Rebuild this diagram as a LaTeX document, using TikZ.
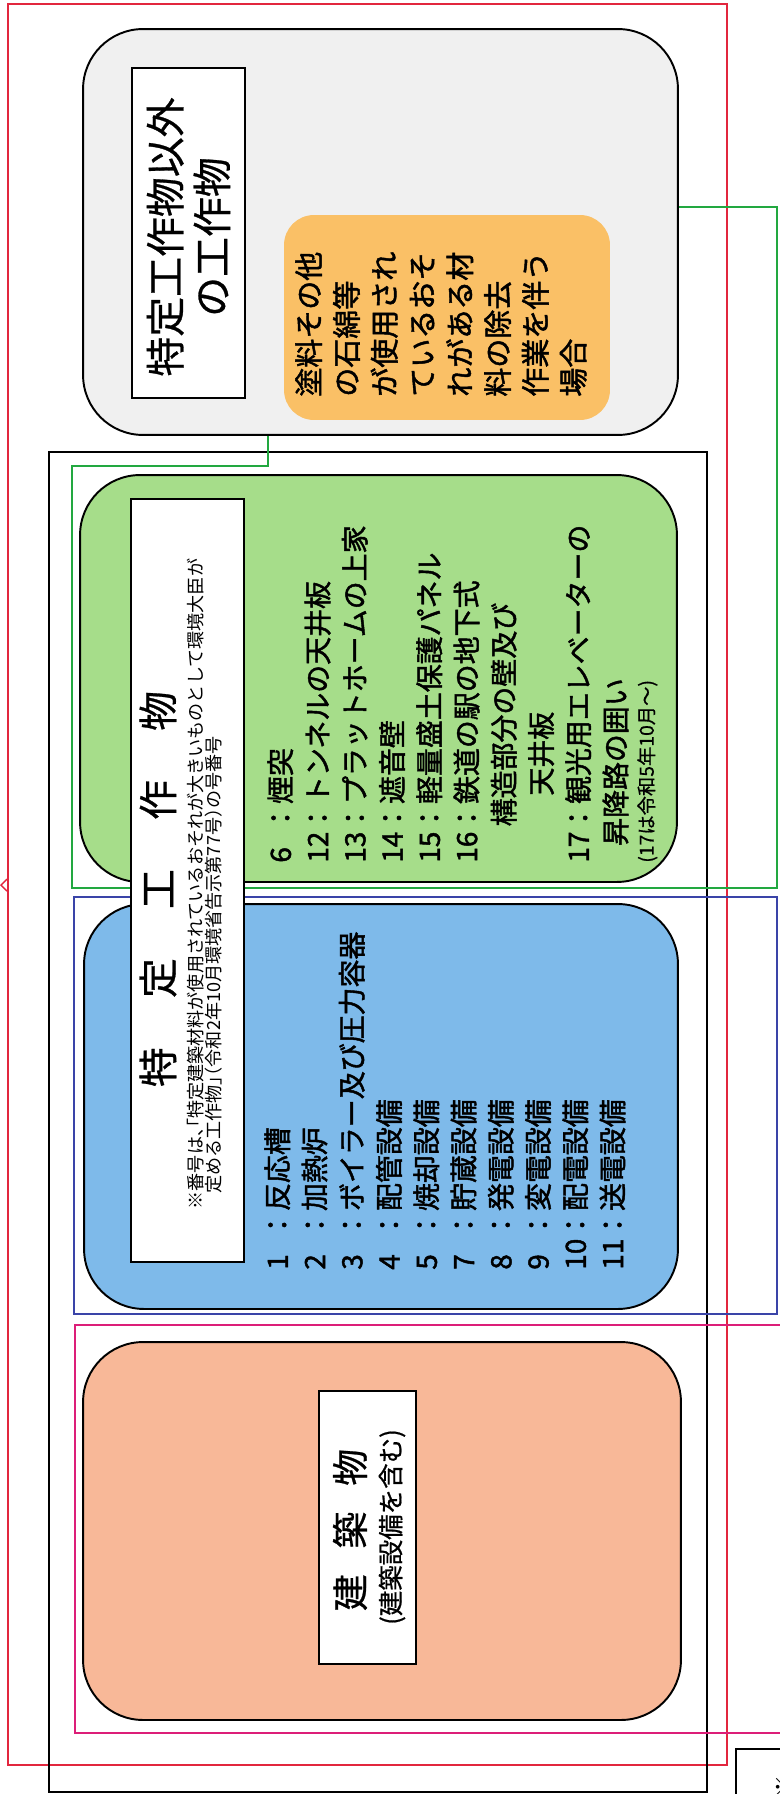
\documentclass[tikz,border=0pt]{standalone}
\usepackage{fontspec}
\setmainfont{Noto Sans CJK JP}
\newfontfamily\jpbold{Noto Sans CJK JP}[FakeBold=1.6]
\newfontfamily\jpmed{Noto Sans CJK JP}[FakeBold=0.7]
\newfontfamily\jpnote{Noto Sans CJK JP}[RawFeature=+halt]
\definecolor{framered}{RGB}{226,38,62}
\definecolor{framegreen}{RGB}{34,168,64}
\definecolor{frameblue}{RGB}{58,68,168}
\definecolor{framepink}{RGB}{220,30,120}
\definecolor{boxgray}{RGB}{240,240,240}
\definecolor{boxorange}{RGB}{250,192,102}
\definecolor{boxgreen}{RGB}{166,221,138}
\definecolor{boxblue}{RGB}{126,186,234}
\definecolor{boxsalmon}{RGB}{248,184,152}
\tikzset{
  roundbox/.style={draw=black, line width=1.1pt, rounded corners=1.2cm, inner sep=0pt},
  titlebox/.style={draw=black, fill=white, line width=0.9pt, rotate=90, inner sep=0pt},
  vtext/.style={rotate=90, inner sep=0pt, align=left},
}
\newcommand\itemno[1]{\makebox[1.1em][l]{#1}：}
\begin{document}
\begin{tikzpicture}[x=0.02cm,y=-0.02cm]
        \useasboundingbox (0,0) rectangle (779,1794);
        %% NOTE: outer frames
        \draw[framered, line width=0.9pt] (8,4) rectangle (727,1765);
        \draw[framered, line width=0.8pt] (7,879) -- (1,885) -- (7,891);
        \draw[black, line width=1.1pt] (49,452) rectangle (707,1792);
        \draw[framegreen, line width=1.4pt] (268,207) -- (777,207) -- (777,888)
            -- (72,888) -- (72,466) -- (268,466) -- cycle;
        \draw[frameblue, line width=0.9pt] (74,897) rectangle (777,1314);
        \draw[framepink, line width=1.1pt] (75,1325) rectangle (781,1733);
        \draw[black, line width=1pt] (736,1800) |- (790,1749);
        \node[rotate=90, anchor=north, font=\fontsize{14}{14}\selectfont] (kome) at (770,1787) {※};
        %% NOTE: other structures
        \node[roundbox, fill=boxgray, minimum width=11.9cm, minimum height=8.12cm] (other) at (380.5,232) {};
        \node[titlebox, minimum width=6.6cm, minimum height=2.26cm] (othertitle) at (188.5,233) {};
        \node[vtext, align=center, font=\jpmed\fontsize{22.7}{26.6}\selectfont] (othername) at (188.5,237)
            {特定工作物以外\\の工作物};
        \node[draw=none, fill=boxorange, rounded corners=0.6cm, minimum width=6.52cm, minimum height=4.1cm] (paint) at (447,317.5) {};
        \node[vtext, anchor=north west, font=\jpbold\fontsize{16.5}{21.5}\selectfont] (painttext) at (295,397)
            {塗料その他\\の石綿等\\が使用され\\ているおそ\\れがある材\\料の除去\\作業を伴う\\場合};
        %% NOTE: specified structures
        \node[roundbox, fill=boxgreen, minimum width=11.94cm, minimum height=8.14cm] (green) at (378.5,678.5) {};
        \node[roundbox, fill=boxblue, minimum width=11.88cm, minimum height=8.1cm] (blue) at (381,1106.5) {};
        \node[titlebox, minimum width=15.26cm, minimum height=2.26cm] (spectitle) at (187.5,880.5) {};
        \node[rotate=90, inner sep=0pt, font=\jpmed\fontsize{22.7}{22.7}\selectfont] (specname) at (158,889)
            {特\hspace{28pt}定\hspace{28pt}工\hspace{28pt}作\hspace{28pt}物};
        \node[vtext, font=\jpnote\fontsize{10.3}{10.4}\selectfont] (specnote) at (205,884)
            {※番号は、「特定建築材料が使用されているおそれが大きいものとして環境大臣が\\
             \hspace{0.85em}定める工作物」（令和2年10月環境省告示第77号）の号番号};
        \node[vtext, anchor=north west, font=\jpbold\fontsize{15.9}{21.2}\selectfont] (greenlist) at (267,863)
            {\itemno{6}煙突\\
             \itemno{12}トンネルの天井板\\
             \itemno{13}プラットホームの上家\\
             \itemno{14}遮音壁\\
             \itemno{15}軽量盛土保護パネル\\
             \itemno{16}鉄道の駅の地下式\\
             \hspace{1.3em}構造部分の壁及び\\
             \hspace{2.4em}天井板\\
             \itemno{17}観光用エレベーターの\\
             \hspace{0.6em}昇降路の囲い};
        \node[vtext, anchor=north west, font=\jpmed\fontsize{11}{11}\selectfont] (greennote) at (637,863)
            {(17は令和5年10月～)};
        \node[vtext, anchor=north west, font=\jpbold\fontsize{15.9}{21.2}\selectfont] (bluelist) at (264,1270)
            {\itemno{1}反応槽\\
             \itemno{2}加熱炉\\
             \itemno{3}ボイラー及び圧力容器\\
             \itemno{4}配管設備\\
             \itemno{5}焼却設備\\
             \itemno{7}貯蔵設備\\
             \itemno{8}発電設備\\
             \itemno{9}変電設備\\
             \itemno{10}配電設備\\
             \itemno{11}送電設備};
        %% NOTE: buildings
        \node[roundbox, fill=boxsalmon, minimum width=11.96cm, minimum height=7.56cm] (building) at (382,1531) {};
        \node[titlebox, minimum width=5.46cm, minimum height=1.94cm] (buildtitle) at (367.5,1527.5) {};
        \node[rotate=90, inner sep=0pt, font=\jpmed\fontsize{21}{21}\selectfont] (buildname) at (350,1530)
            {建\hspace{14.7pt}築\hspace{14.7pt}物};
        \node[rotate=90, inner sep=0pt, font=\jpmed\fontsize{14.5}{14.5}\selectfont] (buildnote) at (392,1527)
            {(建築設備を含む)};
    \end{tikzpicture}
\end{document}
